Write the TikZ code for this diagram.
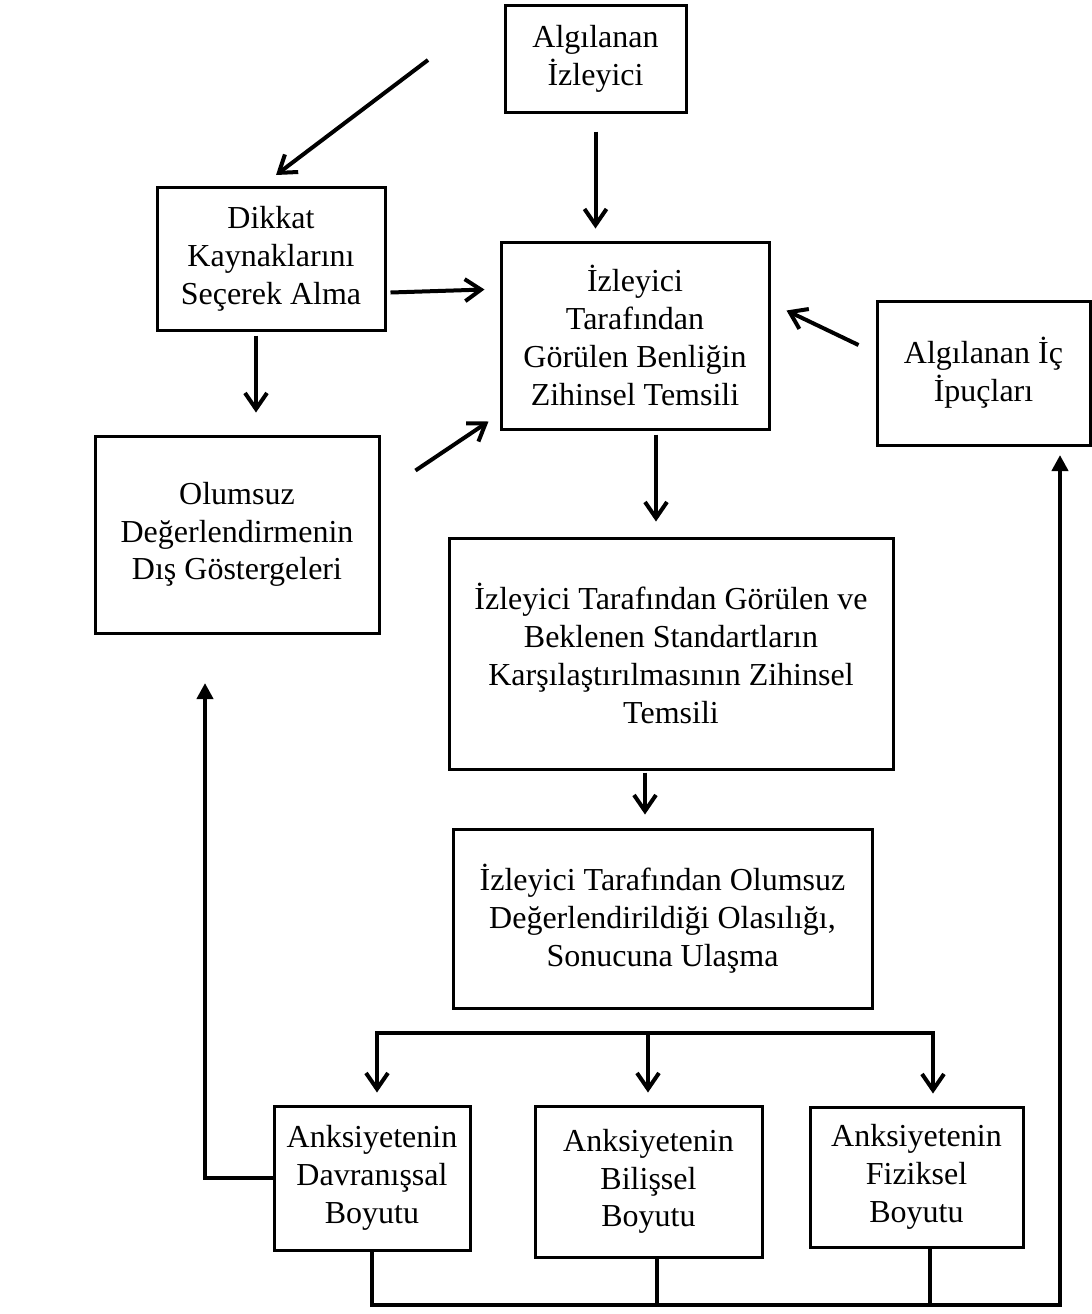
\documentclass[tikz,border=0pt]{standalone}
\usepackage{fontspec}
\setmainfont{Liberation Serif}
\usetikzlibrary{arrows.meta,calc}

\tikzset{
  box/.style={draw, line width=1.5pt, align=center, inner sep=0pt,
    font=\fontsize{16}{18.9}\selectfont},
  conn/.style={line width=2pt, line join=miter},
  arr/.style={conn, -{Straight Barb[length=8pt,width=11pt,line width=2pt]}},
  farr/.style={conn, -{Triangle[length=8pt,width=8pt]}}
}

\begin{document}
\begin{tikzpicture}[x=0.5pt, y=-0.5pt]
\useasboundingbox (0,0) rectangle (1092,1314);
\fill[white] (0,0) rectangle (1092,1314);

% boxes (centre, width, height)
\node[box, minimum width=90.5pt, minimum height=53.5pt] (A) at (595.5,58.5)
  {Algılanan\\İzleyici};
\node[box, minimum width=114pt, minimum height=71.5pt] (B) at (271,258.5)
  {Dikkat\\Kaynaklarını\\Seçerek Alma};
\node[box, minimum width=134pt, minimum height=93.5pt] (C) at (635,335.5)
  {İzleyici\\Tarafından\\Görülen Benliğin\\Zihinsel Temsili};
\node[box, minimum width=106.5pt, minimum height=72pt] (D) at (983.5,373)
  {Algılanan İç\\İpuçları};
\node[box, minimum width=142pt, minimum height=98.5pt] (E) at (237,534.5)
  {Olumsuz\\Değerlendirmenin\\Dış Göstergeleri};
\node[box, minimum width=222pt, minimum height=115.5pt] (F) at (671,653.5)
  {İzleyici Tarafından Görülen ve\\Beklenen Standartların\\Karşılaştırılmasının Zihinsel\\Temsili};
\node[box, minimum width=209.5pt, minimum height=89.5pt] (G) at (662.5,918.5)
  {İzleyici Tarafından Olumsuz\\Değerlendirildiği Olasılığı,\\Sonucuna Ulaşma};
\node[box, minimum width=98pt, minimum height=72pt] (H) at (372,1178)
  {Anksiyetenin\\Davranışsal\\Boyutu};
\node[box, minimum width=113.5pt, minimum height=75.5pt] (I) at (648.5,1181.5)
  {Anksiyetenin\\Bilişsel\\Boyutu};
\node[box, minimum width=106.5pt, minimum height=70pt] (J) at (916.5,1177)
  {Anksiyetenin\\Fiziksel\\Boyutu};

% free-standing input arrow
\coordinate (s1) at (428,60);
\coordinate (e1) at (276,175);
\draw[arr] (s1) -- (e1);

% arrows into the self-representation box
\draw[arr] ($(A.south)+(0,18)$) -- ($(A.south |- C.north)+(0,-12)$);
\draw[arr] ($(B.east)+(4,34)$) -- ($(C.west)+(-15,-46)$);
\draw[arr] ($(E.east)+(35,-64)$) -- ($(C.south west)+(-11,-9)$);
\draw[arr] ($(D.west)+(-17,-28)$) -- ($(C.east)+(16,-25)$);
\draw[arr] ($(B.south)+(-15,4)$) -- ($(E.north)+(19,-22)$);

% main chain downwards
\draw[arr] ($(C.south)+(21,4)$) -- ($(F.north)+(-15,-15)$);
\draw[arr] ($(F.south)+(-26,2)$) -- ($(G.north)+(-17.5,-13)$);

% branching to the three dimensions
\coordinate (b1) at (377,1033);
\coordinate (b2) at (648,1033);
\coordinate (b3) at (933,1033);
\draw[arr, shorten >=6pt] (b2) -- (b1) -- (b1 |- H.north);
\draw[arr, shorten >=6pt] (b2) -- (b3) -- (b3 |- J.north);
\draw[arr, shorten >=6pt] (b2) -- (b2 |- I.north);

% feedback loops
\coordinate (fl) at (205,683);
\draw[farr] (H.west) -| (fl);

\coordinate (bb) at (1060,1305);
\coordinate (ft) at (1060,455);
\draw[farr] (H.south) |- (bb) -- (ft);
\draw[conn] ($(I.south)+(8.5,0)$) -- ($(I.south |- bb)+(8.5,0)$);
\draw[conn] ($(J.south)+(13.5,0)$) -- ($(J.south |- bb)+(13.5,0)$);
\end{tikzpicture}
\end{document}
